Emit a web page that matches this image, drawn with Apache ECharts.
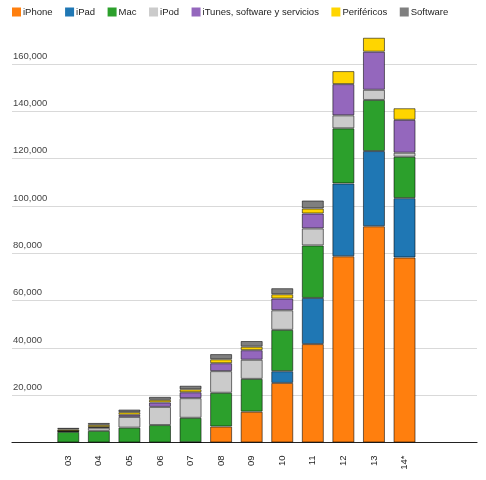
<!DOCTYPE html>
<html>
<head>
<meta charset="utf-8">
<script src="https://cdn.jsdelivr.net/npm/echarts@6/dist/echarts.min.js"></script>
<style>
  html, body { margin: 0; padding: 0; background: #fff; }
  #chart { width: 486px; height: 480px; }
</style>
</head>
<body>
<div id="chart"></div>
<script>
// revenue by product, millions of USD, fiscal years (14* = partial year)
const years = ["03", "04", "05", "06", "07", "08", "09", "10", "11", "12", "13", "14*"];

const iPhone      = [0, 0, 0, 0, 123, 6742, 13033, 25179, 41600, 78700, 91400, 78200];
const iPad        = [0, 0, 0, 0, 0, 0, 0, 4958, 19500, 30800, 31800, 25100];
const mac         = [4491, 4923, 6275, 7375, 10314, 14276, 13859, 17479, 22200, 23300, 21600, 17500];
const iPod        = [345, 1306, 4540, 7676, 8305, 9153, 8091, 8274, 7200, 5500, 4300, 1700];
const iTunes      = [36, 278, 899, 1885, 2496, 3340, 4036, 4948, 6300, 13200, 16100, 13900];
const perifericos = [691, 951, 1126, 1100, 1260, 1659, 1475, 1814, 2100, 5500, 5900, 4900];
const software    = [644, 821, 1091, 1279, 1508, 2207, 2411, 2573, 3400, 0, 0, 0];

const yTicks = { min: 0, max: 160000, interval: 20000 };

const seriesDefs = [
  { name: "iPhone", data: iPhone, color: "#FF7F0E" },
  { name: "iPad", data: iPad, color: "#1F77B4" },
  { name: "Mac", data: mac, color: "#2CA02C" },
  { name: "iPod", data: iPod, color: "#CBCBCB" },
  { name: "iTunes, software y servicios", data: iTunes, color: "#9467BD" },
  { name: "Periféricos", data: perifericos, color: "#FFD500" },
  { name: "Software", data: software, color: "#7F7F7F" }
];

const font = "Liberation Sans, Arial, sans-serif";

const chart = echarts.init(document.getElementById("chart"));

chart.setOption({
  backgroundColor: "#fff",
  animation: false,
  textStyle: { fontFamily: font },
  legend: {
    left: 12,
    top: 7,
    padding: 0,
    itemWidth: 9,
    itemHeight: 9,
    itemGap: 12.5,
    icon: "rect",
    itemStyle: { borderWidth: 0 },
    textStyle: { fontSize: 9.5, color: "#222", fontFamily: font, padding: [0, 0, 0, -3] },
    data: seriesDefs.map(s => s.name)
  },
  grid: [
    // grid for y axis, gridlines and baseline
    { left: 12, right: 9, top: 64, bottom: 37.5 },
    // grid for the bars
    { left: 53, right: 66.2, top: 64, bottom: 37.5 }
  ],
  xAxis: [
    {
      gridIndex: 0,
      type: "value",
      min: 0,
      max: 1,
      axisLine: { show: true, lineStyle: { color: "#222", width: 1.2 } },
      axisTick: { show: false },
      axisLabel: { show: false },
      splitLine: { show: false }
    },
    {
      gridIndex: 1,
      type: "category",
      data: years,
      axisLine: { show: false },
      axisTick: { show: false },
      axisLabel: {
        rotate: 90,
        margin: 13,
        fontSize: 9.5,
        color: "#222",
        fontFamily: font
      }
    }
  ],
  yAxis: [
    {
      gridIndex: 0,
      type: "value",
      min: yTicks.min,
      max: yTicks.max,
      interval: yTicks.interval,
      axisLine: { show: false },
      axisTick: { show: false },
      splitLine: { lineStyle: { color: "#d9d9d9", width: 1 } },
      axisLabel: {
        inside: true,
        margin: 1,
        align: "left",
        verticalAlign: "bottom",
        padding: [0, 0, 3, 0],
        fontSize: 9.5,
        color: "#444",
        fontFamily: font,
        formatter: v => (v === 0 ? "" : v.toLocaleString("en-US"))
      }
    },
    {
      gridIndex: 1,
      type: "value",
      min: yTicks.min,
      max: yTicks.max,
      interval: yTicks.interval,
      show: false
    }
  ],
  series: seriesDefs.map(s => ({
    name: s.name,
    type: "bar",
    stack: "total",
    xAxisIndex: 1,
    yAxisIndex: 1,
    barWidth: 22,
    clip: false,
    // empty segments are left out so they draw no border line
    data: s.data.map(v => (v > 0 ? v : null)),
    itemStyle: {
      color: s.color,
      borderColor: "rgba(0,0,0,0.55)",
      borderWidth: 1
    }
  }))
});
</script>
</body>
</html>
